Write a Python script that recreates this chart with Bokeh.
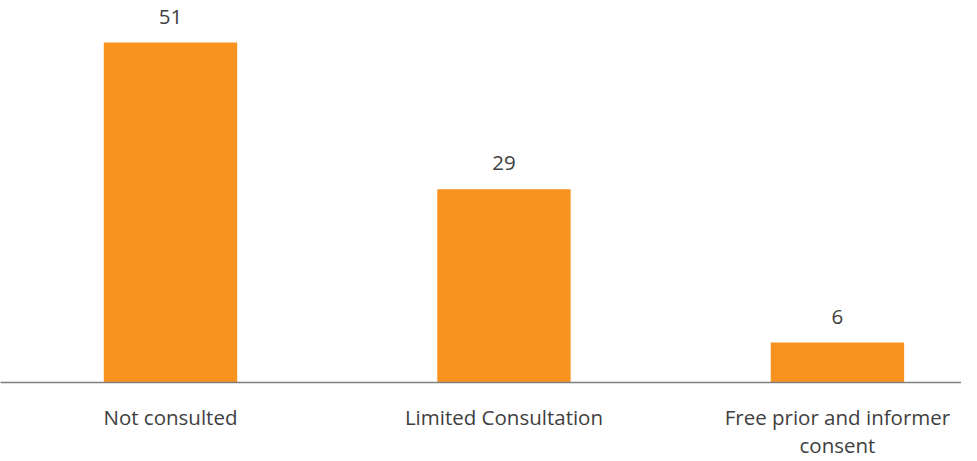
from bokeh.plotting import figure
from bokeh.models import ColumnDataSource, Range1d, FixedTicker
from bokeh.core.properties import value
from bokeh.embed import file_html
from bokeh.resources import INLINE

categories = ["Not consulted", "Limited Consultation", "Free prior and informer\nconsent"]
counts = [51, 29, 6]
positions = [0, 1, 2]

src = ColumnDataSource(dict(x=positions, top=counts, label=[str(c) for c in counts]))

p = figure(frame_width=961, frame_height=382, output_backend="svg", toolbar_location=None,
           x_range=Range1d(-0.5097, 2.372), y_range=Range1d(0, 57.3),
           min_border_left=0, min_border_right=0, min_border_top=0, min_border_bottom=71,
           y_axis_location=None)
p.outline_line_color = None
p.xgrid.visible = False
p.ygrid.visible = False

p.vbar(x="x", top="top", width=0.4, bottom=0, source=src, color="#F7931E", line_color=None)
p.text(x="x", y="top", text="label", source=src, text_align="center", text_baseline="alphabetic",
       y_offset=-26, text_font=value("Open Sans"), text_font_size="20.5px", text_color="#404040")

ax = p.xaxis[0]
ax.ticker = FixedTicker(ticks=positions)
ax.major_label_overrides = {pos: cat for pos, cat in zip(positions, categories)}
ax.major_tick_line_color = None
ax.minor_tick_line_color = None
ax.axis_line_color = "#808080"
ax.axis_line_width = 1.5
ax.major_label_standoff = 14
ax.major_label_text_font = "Open Sans"
ax.major_label_text_font_size = "20.5px"
ax.major_label_text_color = "#404040"
ax.major_label_text_line_height = 1.0

open("out.html", "w").write(file_html(p, INLINE))
